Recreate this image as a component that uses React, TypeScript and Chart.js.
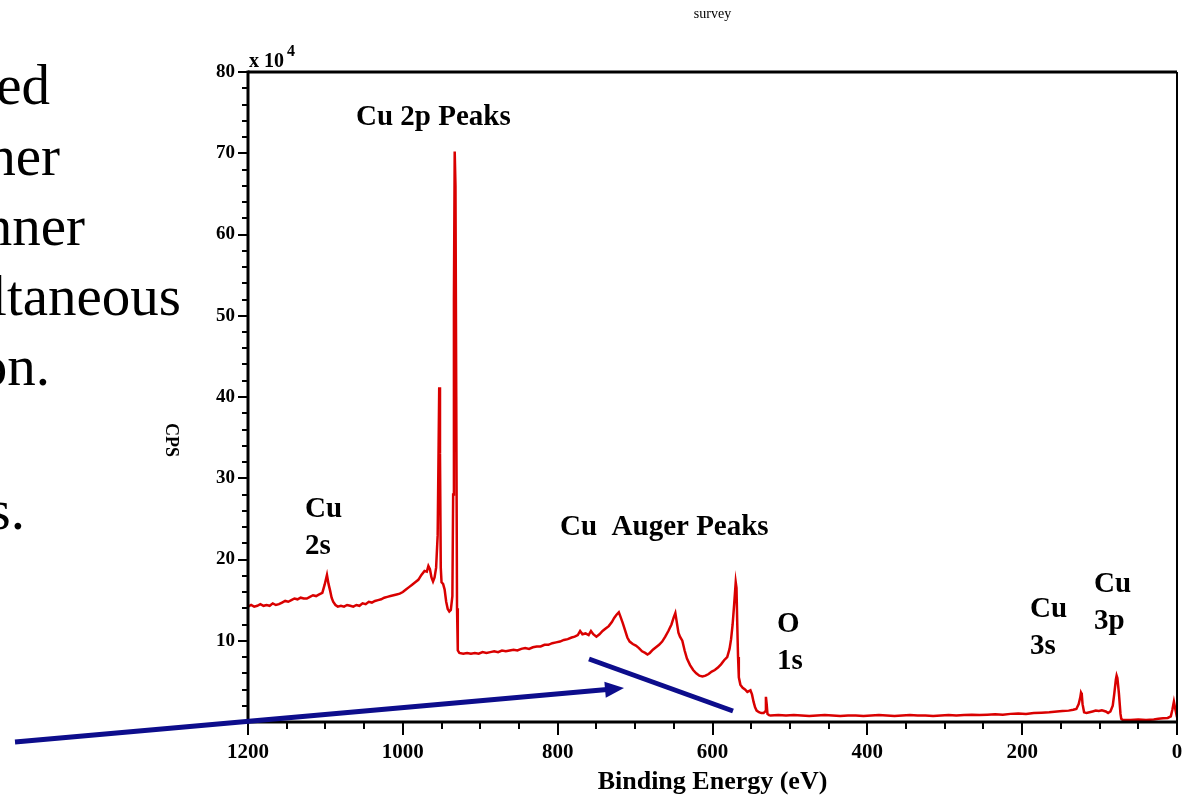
import React, { useEffect, useRef } from "react";
import { Chart, registerables } from "chart.js";

Chart.register(...registerables);

// Binding energy (eV) and intensity (CPS, x 10^4)
const bindingEnergy = [
  1200, 1196, 1192, 1188, 1184, 1180, 1176, 1172, 1168, 1164, 1160, 1156, 1152, 1148, 1144, 1140,
  1136, 1132, 1128, 1124, 1120, 1116, 1112, 1108, 1104, 1101, 1098, 1096, 1094, 1092, 1090, 1087,
  1084, 1080, 1076, 1072, 1068, 1064, 1060, 1056, 1052, 1048, 1044, 1040, 1036, 1032, 1028, 1024,
  1020, 1016, 1012, 1008, 1004, 1000, 996, 992, 988, 984, 980, 976, 972, 969, 967, 965,
  963, 961, 959, 957, 955, 954, 953, 952, 951, 950, 948, 946, 944, 942, 940, 938,
  936, 935, 934, 933, 932, 931, 930, 929, 927, 922, 917, 912, 907, 902, 897, 892,
  887, 882, 877, 872, 867, 862, 857, 852, 847, 842, 837, 832, 827, 822, 817, 812,
  807, 802, 797, 792, 787, 782, 778, 774, 771, 768, 764, 760, 757, 754, 750, 746,
  742, 738, 734, 730, 727, 724, 721, 719, 716, 713, 710, 707, 703, 699, 695, 691,
  687, 684, 681, 677, 673, 669, 665, 661, 657, 653, 650, 648, 646, 644, 642, 639,
  636, 633, 629, 625, 621, 617, 613, 609, 605, 601, 597, 593, 589, 585, 581, 578,
  576, 574, 572, 570, 569, 568, 567, 566, 564, 561, 558, 555, 553, 551, 549, 547,
  545, 543, 540, 537, 534, 532, 531, 530, 529, 527, 525, 515, 505, 495, 485, 475,
  465, 455, 445, 435, 425, 415, 405, 395, 385, 375, 365, 355, 345, 335, 325, 315,
  305, 295, 285, 275, 265, 255, 245, 235, 225, 215, 205, 195, 185, 175, 165, 155,
  148, 140, 134, 130, 127, 125, 124, 123, 122, 120, 117, 113, 109, 105, 101, 97,
  92, 89, 86, 83, 81, 79, 78, 77, 75, 73, 72, 70, 60, 50, 40, 30,
  24, 18, 12, 8, 6, 4, 2, 0,
];

const cps = [
  14.2, 14.4, 14.2, 14.3, 14.5, 14.3, 14.4, 14.3, 14.6, 14.4, 14.5, 14.7, 14.9, 14.8, 15.0, 15.2,
  15.1, 15.3, 15.2, 15.2, 15.4, 15.6, 15.5, 15.7, 15.9, 16.9, 18.1, 17.0, 16.2, 15.3, 14.8, 14.4,
  14.2, 14.3, 14.2, 14.4, 14.3, 14.2, 14.4, 14.3, 14.6, 14.5, 14.8, 14.7, 14.9, 15.0, 15.1, 15.3,
  15.4, 15.5, 15.6, 15.7, 15.8, 16.0, 16.3, 16.6, 16.9, 17.2, 17.5, 18.1, 18.6, 18.5, 19.2, 18.8,
  17.8, 17.3, 17.8, 19.0, 23.0, 32.0, 41.2, 33.0, 19.0, 17.2, 17.0, 16.3, 14.8, 13.9, 13.6, 13.8,
  15.5, 28.0, 52.0, 70.2, 66.0, 40.0, 14.0, 8.8, 8.5, 8.4, 8.5, 8.4, 8.5, 8.4, 8.6, 8.5,
  8.6, 8.7, 8.6, 8.8, 8.7, 8.8, 8.9, 8.8, 9.0, 9.1, 9.0, 9.2, 9.3, 9.3, 9.5, 9.5,
  9.7, 9.8, 9.9, 10.1, 10.2, 10.4, 10.5, 10.7, 11.2, 10.8, 10.9, 10.7, 11.2, 10.8, 10.5, 10.8,
  11.2, 11.5, 11.8, 12.3, 12.8, 13.2, 13.5, 13.0, 12.2, 11.3, 10.4, 9.9, 9.6, 9.4, 9.1, 8.7,
  8.5, 8.3, 8.5, 8.9, 9.2, 9.5, 9.9, 10.5, 11.2, 12.0, 12.9, 13.4, 12.2, 11.0, 10.5, 10.0,
  8.8, 7.8, 7.0, 6.4, 6.0, 5.7, 5.6, 5.7, 5.9, 6.2, 6.4, 6.7, 7.1, 7.6, 8.0, 9.0,
  10.2, 12.0, 14.5, 17.2, 16.5, 12.0, 8.0, 5.5, 4.6, 4.2, 4.0, 3.7, 3.8, 3.9, 3.4, 2.5,
  1.8, 1.4, 1.2, 1.1, 1.1, 1.3, 3.1, 2.2, 1.0, 0.85, 0.8, 0.85, 0.8, 0.85, 0.8, 0.75,
  0.8, 0.85, 0.8, 0.75, 0.8, 0.8, 0.75, 0.8, 0.85, 0.8, 0.75, 0.8, 0.85, 0.8, 0.8, 0.75,
  0.8, 0.85, 0.8, 0.85, 0.9, 0.85, 0.9, 0.95, 0.9, 1.0, 1.05, 1.0, 1.1, 1.15, 1.2, 1.3,
  1.35, 1.4, 1.5, 1.6, 2.2, 3.0, 3.6, 3.4, 2.2, 1.2, 1.1, 1.2, 1.3, 1.4, 1.35, 1.45,
  1.3, 1.1, 1.3, 2.0, 3.5, 5.2, 5.7, 5.4, 3.5, 1.0, 0.4, 0.25, 0.25, 0.3, 0.25, 0.3,
  0.4, 0.45, 0.5, 0.7, 1.5, 2.5, 1.5, 0.6,
];

const xTickValues = [1200, 1000, 800, 600, 400, 200, 0];
const yTickValues = [10, 20, 30, 40, 50, 60, 70, 80];

const peakLabels = [
  { lines: ["Cu 2p Peaks"], x: 356, y: 125 },
  { lines: ["Cu", "2s"], x: 305, y: 517 },
  { lines: ["Cu  Auger Peaks"], x: 560, y: 535 },
  { lines: ["O", "1s"], x: 777, y: 632 },
  { lines: ["Cu", "3s"], x: 1030, y: 617 },
  { lines: ["Cu", "3p"], x: 1094, y: 592 },
];

const slideFragments = [
  { text: "ed", right: 50, y: 104 },
  { text: "her", right: 60, y: 175 },
  { text: "nner", right: 85, y: 245 },
  { text: "ltaneous", right: 181, y: 315 },
  { text: "on.", right: 50, y: 385 },
  { text: "s.", right: 25, y: 529 },
];

const SERIF = "'Liberation Serif', 'Times New Roman', Times, serif";
const RED = "#d90000";
const NAVY = "#0d0d8c";
const W = 1183;
const H = 798;

const overlayPlugin = {
  id: "overlay",
  afterDraw(chart: any) {
    const { ctx, chartArea } = chart;
    const { left, right, top, bottom } = chartArea;
    const xs = chart.scales.x;
    const ys = chart.scales.y;
    ctx.save();

    // frame
    ctx.strokeStyle = "#000";
    ctx.lineWidth = 3;
    ctx.beginPath();
    ctx.moveTo(left, top);
    ctx.lineTo(right, top);
    ctx.stroke();
    ctx.lineWidth = 2;
    ctx.beginPath();
    ctx.moveTo(right, top);
    ctx.lineTo(right, bottom);
    ctx.stroke();
    ctx.lineWidth = 3;
    ctx.beginPath();
    ctx.moveTo(left, top - 1.5);
    ctx.lineTo(left, bottom);
    ctx.lineTo(right + 1, bottom);
    ctx.stroke();

    // ticks
    ctx.lineWidth = 2;
    for (let v = 0; v <= 1200; v += 50) {
      const px = Math.round(xs.getPixelForValue(v));
      const len = v % 200 === 0 ? 13 : 7;
      ctx.beginPath();
      ctx.moveTo(px, bottom);
      ctx.lineTo(px, bottom + len);
      ctx.stroke();
    }
    for (let v = 2; v <= 80; v += 2) {
      const py = Math.round(ys.getPixelForValue(v));
      const len = v % 10 === 0 ? 10 : 6;
      ctx.beginPath();
      ctx.moveTo(left, py);
      ctx.lineTo(left - len, py);
      ctx.stroke();
    }

    ctx.fillStyle = "#000";
    // exponent
    ctx.textAlign = "left";
    ctx.textBaseline = "alphabetic";
    ctx.font = `bold 20px ${SERIF}`;
    ctx.fillText("x 10", 249, 67);
    ctx.font = `bold 16px ${SERIF}`;
    ctx.fillText("4", 287, 56);

    // title
    ctx.font = `14px ${SERIF}`;
    ctx.textAlign = "center";
    ctx.fillText("survey", (left + right) / 2, 18);

    // CPS rotated clockwise
    ctx.save();
    ctx.translate(171, 440);
    ctx.rotate(Math.PI / 2);
    ctx.font = `bold 18px ${SERIF}`;
    ctx.textAlign = "center";
    ctx.textBaseline = "middle";
    ctx.fillText("CPS", 0, 0);
    ctx.restore();

    // peak annotations
    ctx.font = `bold 29px ${SERIF}`;
    ctx.textAlign = "left";
    ctx.textBaseline = "alphabetic";
    for (const a of peakLabels) {
      a.lines.forEach((t, i) => ctx.fillText(t, a.x, a.y + i * 37));
    }

    // slide text fragments
    ctx.font = `57px ${SERIF}`;
    ctx.textAlign = "right";
    for (const f of slideFragments) ctx.fillText(f.text, f.right, f.y);

    // arrows
    ctx.strokeStyle = NAVY;
    ctx.fillStyle = NAVY;
    ctx.lineWidth = 5;
    ctx.lineCap = "butt";
    const sx = 15, sy = 742, tx = 624, ty = 688;
    const dl = Math.hypot(tx - sx, ty - sy);
    const dx = (tx - sx) / dl, dy = (ty - sy) / dl;
    const bx = tx - 19 * dx, by = ty - 19 * dy;
    ctx.beginPath();
    ctx.moveTo(sx, sy);
    ctx.lineTo(bx + 2 * dx, by + 2 * dy);
    ctx.stroke();
    ctx.beginPath();
    ctx.moveTo(tx, ty);
    ctx.lineTo(bx - 8 * dy, by + 8 * dx);
    ctx.lineTo(bx + 8 * dy, by - 8 * dx);
    ctx.closePath();
    ctx.fill();
    ctx.beginPath();
    ctx.moveTo(589, 659);
    ctx.lineTo(733, 711);
    ctx.stroke();

    ctx.restore();
  },
};

export default function App() {
  const canvasRef = useRef<HTMLCanvasElement | null>(null);

  useEffect(() => {
    document.body.style.margin = "0";
    const canvas = canvasRef.current;
    if (!canvas) return;
    const points = bindingEnergy.map((be, i) => ({ x: be, y: cps[i] }));
    const chart = new Chart(canvas, {
      type: "line",
      data: {
        datasets: [
          {
            label: "survey",
            data: points,
            borderColor: RED,
            borderWidth: 2.5,
            pointRadius: 0,
            tension: 0,
            fill: false,
          },
        ],
      },
      options: {
        animation: false,
        responsive: false,
        devicePixelRatio: 1,
        layout: { padding: { top: 72, right: 6, left: 0, bottom: 0 } },
        plugins: {
          legend: { display: false },
          tooltip: { enabled: false },
          title: { display: false },
        },
        scales: {
          x: {
            type: "linear",
            reverse: true,
            min: 0,
            max: 1200,
            afterFit: (s: any) => {
              s.height = 76;
              s.paddingLeft = 0;
              s.paddingRight = 0;
            },
            afterBuildTicks: (s: any) => {
              s.ticks = xTickValues.map((v) => ({ value: v }));
            },
            grid: { display: false, drawTicks: false },
            border: { display: false },
            ticks: {
              padding: 18,
              color: "#000",
              maxRotation: 0,
              autoSkip: false,
              font: { family: SERIF, size: 21, weight: "bold" },
              callback: (v: any) => String(v),
            },
            title: {
              display: true,
              text: "Binding Energy (eV)",
              color: "#000",
              padding: { top: 0, bottom: 0 },
              font: { family: SERIF, size: 26, weight: "bold" },
            },
          },
          y: {
            type: "linear",
            min: 0,
            max: 80,
            afterFit: (s: any) => {
              s.width = 248;
              s.paddingTop = 0;
              s.paddingBottom = 0;
            },
            afterBuildTicks: (s: any) => {
              s.ticks = yTickValues.map((v) => ({ value: v }));
            },
            grid: { display: false, drawTicks: false },
            border: { display: false },
            ticks: {
              padding: 13,
              color: "#000",
              autoSkip: false,
              font: { family: SERIF, size: 19, weight: "bold" },
              callback: (v: any) => String(v),
            },
          },
        },
      },
      plugins: [overlayPlugin],
    });
    return () => chart.destroy();
  }, []);

  return (
    <div style={{ position: "absolute", left: 0, top: 0, width: W, height: H, background: "#fff" }}>
      <canvas ref={canvasRef} width={W} height={H} style={{ display: "block" }} />
    </div>
  );
}
